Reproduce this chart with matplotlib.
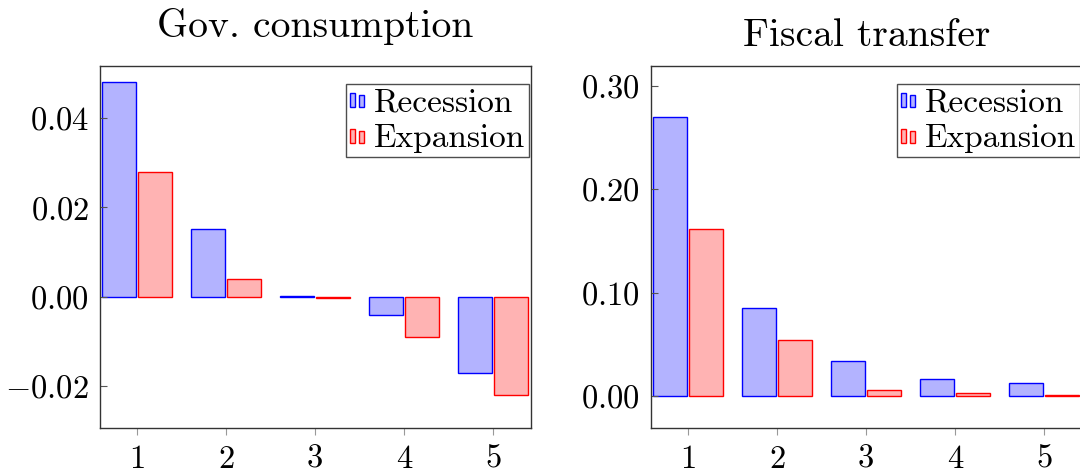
import matplotlib
matplotlib.use("Agg")
import matplotlib.pyplot as plt
from matplotlib.patches import Rectangle
from matplotlib.legend_handler import HandlerBase
from matplotlib.container import BarContainer
from matplotlib.ticker import FuncFormatter

plt.rcParams["font.family"] = "cmr10"
plt.rcParams["mathtext.fontset"] = "cm"
plt.rcParams["axes.formatter.use_mathtext"] = True

horizons = [1, 2, 3, 4, 5]

gov_recession = [0.0481, 0.0151, 0.0001, -0.0040, -0.0171]
gov_expansion = [0.0279, 0.0040, -0.0003, -0.0090, -0.0220]

transfer_recession = [0.270, 0.085, 0.034, 0.016, 0.0125]
transfer_expansion = [0.161, 0.054, 0.006, 0.003, 0.001]

BLUE_FILL, BLUE_EDGE = "#b3b3ff", "#0000ff"
RED_FILL, RED_EDGE = "#ffb3b3", "#ff0000"


class BarLegendHandler(HandlerBase):
    # small pair of bars, like pgfplots' ybar legend
    def create_artists(self, legend, orig_handle, xdescent, ydescent,
                       width, height, fontsize, trans):
        p = orig_handle.patches[0]
        fc = p.get_facecolor()
        ec = p.get_edgecolor()
        w = width * 0.25
        arts = []
        for i, h in enumerate([height * 0.6, height * 0.5]):
            r = Rectangle((-xdescent + i * (w + width * 0.2), -ydescent + height * 0.2),
                          w, h, facecolor=fc, edgecolor=ec, lw=1.0, transform=trans)
            arts.append(r)
        return arts


def draw(ax, rec, exp, title, ylim, yticks, title_pad):
    x = horizons
    bw = 0.38
    ax.bar([v - 0.2 for v in x], rec, width=bw, color=BLUE_FILL, edgecolor=BLUE_EDGE,
           linewidth=1.0, label="Recession")
    ax.bar([v + 0.2 for v in x], exp, width=bw, color=RED_FILL, edgecolor=RED_EDGE,
           linewidth=1.0, label="Expansion")
    ax.set_xlim(0.585, 5.425)
    ax.set_ylim(*ylim)
    ax.set_xticks(x)
    ax.set_xticklabels([str(v) for v in x])
    ax.set_yticks(yticks)
    ax.yaxis.set_major_formatter(FuncFormatter(lambda v, p: f"${v:.2f}$"))
    ax.tick_params(axis="y", direction="in", length=5, width=0.8, color="#555555",
                   labelsize=23.5, pad=8)
    ax.tick_params(axis="x", direction="out", length=5, width=0.8, color="#999999",
                   labelsize=23.5, pad=7)
    for s in ax.spines.values():
        s.set_linewidth(1.0)
        s.set_color("#333333")
    ax.set_title(title, fontsize=28.5, pad=title_pad)
    leg = ax.legend(loc="upper right", bbox_to_anchor=(0.995, 0.95),
                    fontsize=24, frameon=True, fancybox=False, edgecolor="#222222",
                    borderpad=0.12, labelspacing=0.2, handlelength=0.6,
                    handletextpad=0.1, borderaxespad=0.0,
                    handler_map={BarContainer: BarLegendHandler()})
    leg.get_frame().set_linewidth(1.0)


fig = plt.figure(figsize=(10.8, 4.73), dpi=100)
ax1 = fig.add_axes([100 / 1080, 1 - 428 / 473, 431 / 1080, 362 / 473])
ax2 = fig.add_axes([651 / 1080, 1 - 428 / 473, 431 / 1080, 362 / 473])

draw(ax1, gov_recession, gov_expansion, "Gov. consumption",
     (-0.0294, 0.0517), [-0.02, 0.0, 0.02, 0.04], 21)
draw(ax2, transfer_recession, transfer_expansion, "Fiscal transfer",
     (-0.031, 0.319), [0.0, 0.10, 0.20, 0.30], 14.5)

fig.savefig("out.png", dpi=100)
